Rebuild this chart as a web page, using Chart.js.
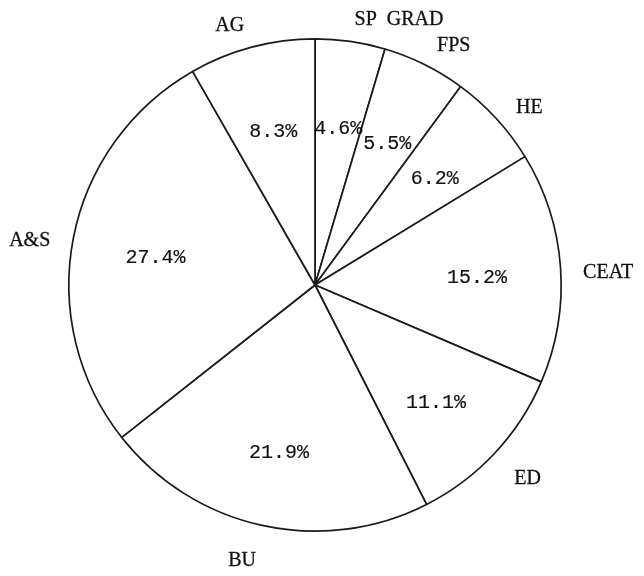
<!DOCTYPE html>
<html>
<head>
<meta charset="utf-8">
<script src="https://cdn.jsdelivr.net/npm/chart.js@4/dist/chart.umd.min.js"></script>
<style>
  html, body { margin: 0; padding: 0; background: #fff; }
  #wrap { width: 644px; height: 576px; position: relative; }
</style>
</head>
<body>
<div id="wrap"><canvas id="pie"></canvas></div>
<script>
// colleges, clockwise from 12 o'clock
const colleges = ['SP  GRAD', 'FPS', 'HE', 'CEAT', 'ED', 'BU', 'A&S', 'AG'];
const shares = [4.6, 5.5, 6.2, 15.2, 11.1, 21.9, 27.4, 8.3];

const labelFont = "20px 'Liberation Serif', 'DejaVu Serif', serif";
const pctFont = "20px 'Liberation Mono', 'DejaVu Sans Mono', monospace";

// writes the names outside and the percentages inside each slice
const sliceLabels = {
  id: 'sliceLabels',
  afterDatasetsDraw(chart) {
    const ctx = chart.ctx;
    const meta = chart.getDatasetMeta(0);
    ctx.save();
    ctx.fillStyle = '#111';
    ctx.strokeStyle = '#111';
    ctx.textBaseline = 'middle';
    const put = (text, px, py, ink) => {
      ctx.fillText(text, px, py);
      ctx.lineWidth = ink;
      ctx.strokeText(text, px, py);
    };
    meta.data.forEach((arc, i) => {
      const { x, y, startAngle, endAngle, outerRadius } = arc.getProps(
        ['x', 'y', 'startAngle', 'endAngle', 'outerRadius'], true);
      const mid = (startAngle + endAngle) / 2;
      const c = Math.cos(mid), s = Math.sin(mid);

      ctx.font = pctFont;
      ctx.textAlign = 'center';
      const r1 = outerRadius * 0.66 + 5 * Math.max(s, 0);
      put(shares[i].toFixed(1) + '%', x + c * r1, y + s * r1 + 4, 0.15);

      ctx.font = labelFont;
      ctx.textAlign = c >= 0 ? 'left' : 'right';
      const r2 = outerRadius * 1.09 + 7 * Math.abs(s);
      put(colleges[i], x + c * r2, y + s * r2 + 7, 0.3);
    });
    ctx.restore();
  },
};

new Chart(document.getElementById('pie'), {
  type: 'pie',
  data: {
    labels: colleges,
    datasets: [{
      data: shares,
      backgroundColor: '#fff',
      borderColor: '#1a1a1a',
      borderWidth: 1.7,
      hoverOffset: 0,
    }],
  },
  options: {
    responsive: true,
    maintainAspectRatio: false,
    animation: false,
    events: [],
    layout: { padding: { left: 68, right: 82, top: 38, bottom: 44 } },
    plugins: {
      legend: { display: false },
      tooltip: { enabled: false },
    },
  },
  plugins: [sliceLabels],
});
</script>
</body>
</html>
